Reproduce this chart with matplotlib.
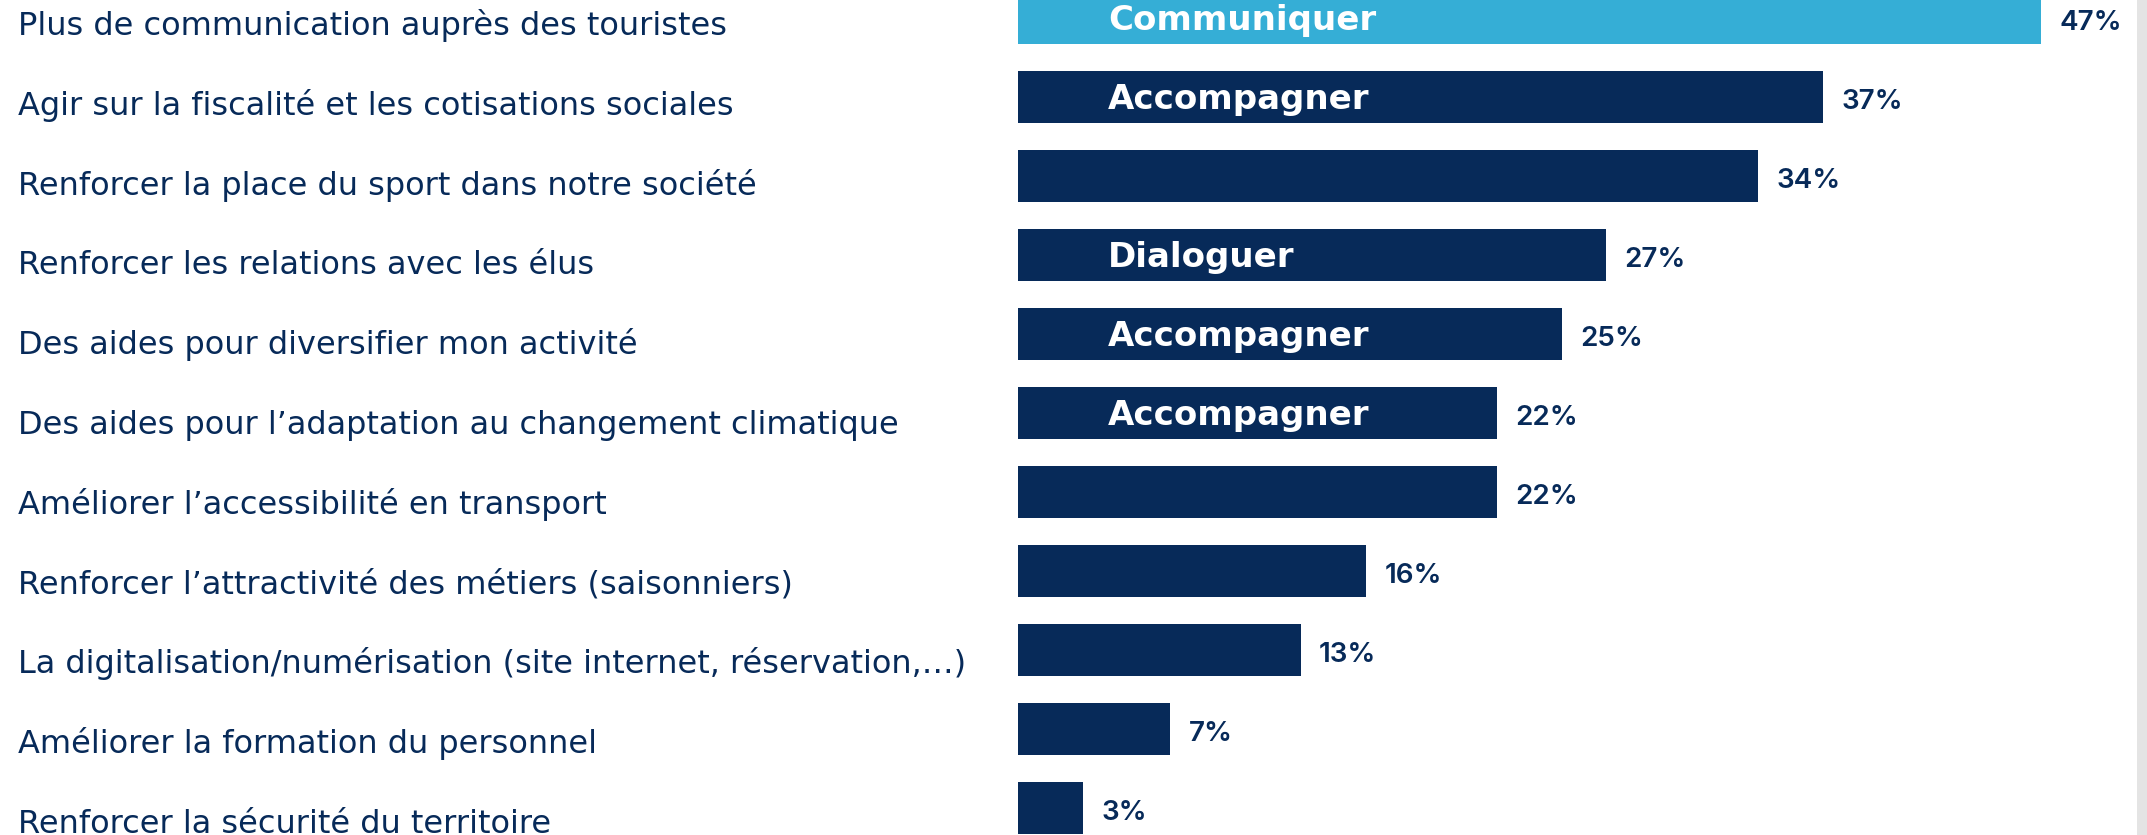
import matplotlib
matplotlib.use("Agg")
import matplotlib.pyplot as plt
from matplotlib.transforms import blended_transform_factory
from matplotlib.patches import Rectangle

# Survey answers (share of respondents, %)
categories = [
    "Plus de communication auprès des touristes",
    "Agir sur la fiscalité et les cotisations sociales",
    "Renforcer la place du sport dans notre société",
    "Renforcer les relations avec les élus",
    "Des aides pour diversifier mon activité",
    "Des aides pour l\u2019adaptation au changement climatique",
    "Améliorer l\u2019accessibilité en transport",
    "Renforcer l\u2019attractivité des métiers (saisonniers)",
    "La digitalisation/numérisation (site internet, réservation,\u2026)",
    "Améliorer la formation du personnel",
    "Renforcer la sécurité du territoire",
]
values = [47, 37, 34, 27, 25, 22, 22, 16, 13, 7, 3]
themes = ["Communiquer", "Accompagner", "", "Dialoguer", "Accompagner",
          "Accompagner", "", "", "", "", ""]

NAVY = "#072a59"
LIGHT_BLUE = "#35aed6"
PCT_FONT = "Inter"
LABEL_FONT = "DejaVu Sans"

W, H, DPI = 2147, 835, 100
fig = plt.figure(figsize=(W / DPI, H / DPI), dpi=DPI)
fig.patch.set_facecolor("white")

# bar area: zero line at x=1018 px, ~21.77 px per percentage point
x0_px, x1_px, px_per_pt = 1018, 2137, 21.77
ax = fig.add_axes([x0_px / W, 0, (x1_px - x0_px) / W, 1])
ax.set_xlim(0, (x1_px - x0_px) / px_per_pt)
# rows are ~79 px apart, first bar centred at y=18 px
row_px, first_px = 79.0, 18.0
ax.set_ylim((H - first_px) / row_px, -first_px / row_px)
ax.axis("off")

ypos = list(range(len(categories)))
colors = [LIGHT_BLUE] + [NAVY] * (len(values) - 1)
ax.barh(ypos, values, height=0.66, color=colors, edgecolor="none")

for y, v, t in zip(ypos, values, themes):
    ax.annotate(f"{v}%", xy=(v, y), xytext=(13, -8.7), textcoords="offset points",
                ha="left", va="baseline", color=NAVY, fontsize=20,
                fontweight="semibold", family=PCT_FONT)
    if t:
        ax.annotate(t, xy=(4.13, y), xytext=(0, -8.6), textcoords="offset points",
                    ha="left", va="baseline", color="white",
                    fontsize=24.5, fontweight="bold", family=LABEL_FONT)

# category labels at the left edge of the figure
trans = blended_transform_factory(fig.transFigure, ax.transData)
for y, c in zip(ypos, categories):
    ax.text(18 / W, y * 1.0101 + 0.215, c, transform=trans, ha="left",
            va="baseline", color=NAVY, fontsize=23, family=LABEL_FONT,
            clip_on=False)

# thin grey frame edge on the right
fig.add_artist(Rectangle((x1_px / W, 0), 1 - x1_px / W, 1,
                         transform=fig.transFigure, color="#e4e4e4", lw=0))

fig.savefig("out.png", dpi=DPI, facecolor="white")
